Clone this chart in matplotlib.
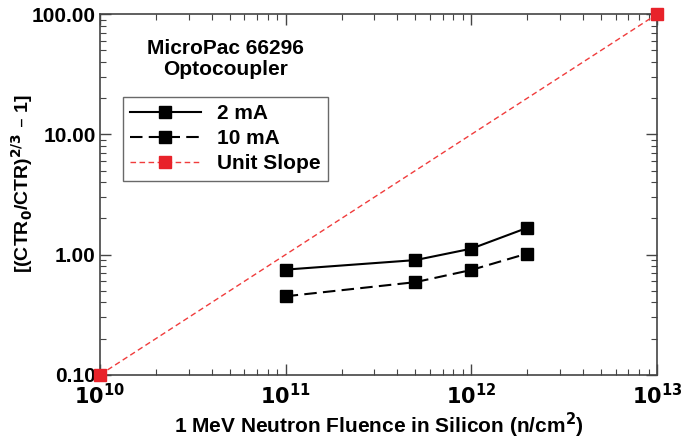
import matplotlib.pyplot as plt
from matplotlib.ticker import LogLocator, NullFormatter, FixedLocator

plt.rcParams['font.family'] = ['Liberation Sans', 'DejaVu Sans']
plt.rcParams['font.weight'] = 'bold'

fluence = [1e11, 5e11, 1e12, 2e12]
ctr_2ma = [0.75, 0.90, 1.12, 1.67]
ctr_10ma = [0.45, 0.59, 0.745, 1.02]
unit_x = [1e10, 1e13]
unit_y = [0.1, 100]

fig = plt.figure(figsize=(6.99, 4.42), dpi=100)
ax = fig.add_axes([0.143, 0.152, 0.797, 0.816])

ax.plot(fluence, ctr_2ma, '-', color='black', lw=1.5, marker='s', ms=9, label='2 mA')
ax.plot(fluence, ctr_10ma, '--', color='black', lw=1.5, dashes=(6, 3), marker='s', ms=9, label='10 mA')
ax.plot(unit_x, unit_y, '--', color='#f03c3c', lw=1, dashes=(4, 2.5), marker='s', ms=9,
        mfc='#e8222a', mec='#e8222a', label='Unit Slope', clip_on=False, zorder=5)

ax.set_xscale('log')
ax.set_yscale('log')
ax.set_xlim(1e10, 1e13)
ax.set_ylim(0.1, 100)

ax.yaxis.set_major_locator(FixedLocator([0.1, 1, 10, 100]))
ax.set_yticklabels(['0.10', '1.00', '10.00', '100.00'])
ax.xaxis.set_major_locator(FixedLocator([1e10, 1e11, 1e12, 1e13]))
ax.set_xticklabels(['$\\mathbf{10^{10}}$', '$\\mathbf{10^{11}}$', '$\\mathbf{10^{12}}$', '$\\mathbf{10^{13}}$'])
ax.xaxis.set_minor_locator(LogLocator(base=10, subs=range(2, 10), numticks=20))
ax.yaxis.set_minor_locator(LogLocator(base=10, subs=range(2, 10), numticks=20))
ax.xaxis.set_minor_formatter(NullFormatter())
ax.yaxis.set_minor_formatter(NullFormatter())

ax.tick_params(which='both', direction='in', top=True, right=True, color='#444444')
ax.tick_params(which='major', length=8, width=1, labelsize=15, pad=3)
ax.tick_params(which='minor', length=4, width=0.8)
ax.tick_params(axis='x', which='major', pad=6)
for s in ax.spines.values():
    s.set_color('#444444')
    s.set_linewidth(1.2)

ax.set_xlabel('1 MeV Neutron Fluence in Silicon (n/cm$\\mathbf{^2}$)', fontsize=15, fontweight='bold')
ax.set_ylabel('[(CTR$\\mathbf{_0}$/CTR)$\\mathbf{^{2/3}}$ \u2013 1]', fontsize=14, fontweight='bold')
ax.xaxis.set_label_coords(0.5, -0.1)
ax.yaxis.set_label_coords(-0.117, 0.529)

ax.text(0.225, 0.875, 'MicroPac 66296\nOptocoupler', transform=ax.transAxes, ha='center', va='center',
        fontsize=15, fontweight='bold', linespacing=1.1)

leg = ax.legend(loc='upper left', bbox_to_anchor=(0.022, 0.8), fontsize=15, frameon=True, fancybox=False,
                edgecolor='#444444', handlelength=3.4, borderpad=0.35, labelspacing=0.3, handletextpad=0.8)
leg.get_frame().set_linewidth(1)

fig.savefig('out.png', dpi=100)
